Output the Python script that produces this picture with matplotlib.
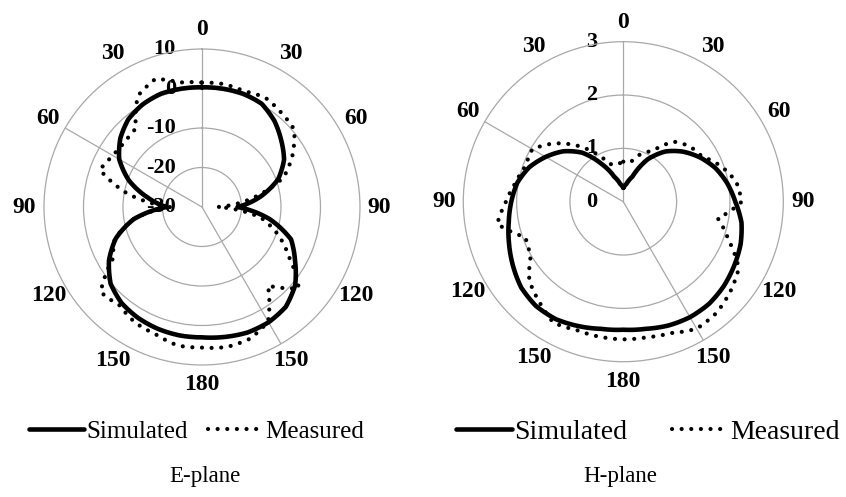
"""
Radiation patterns: E-plane (dB) and H-plane (linear), simulated vs measured
"""
import numpy as np
import matplotlib
matplotlib.use("Agg")
import matplotlib.pyplot as plt
from matplotlib.transforms import offset_copy

SERIF = "Liberation Serif"
GRID  = "#a8a8a8"

# angles, clockwise from broadside (deg)
ANGLES = [0, 10, 20, 30, 40, 50, 60, 70, 80, 90, 100, 110, 120, 130, 140, 150, 160, 170,
          180, 190, 200, 210, 220, 230, 240, 250, 260, 270, 280, 290, 300, 310, 320, 330,
          340, 350, 360]

# E-plane, dB
E_SIM  = [0.3, 0.4, 0.5, 0.2, -1.5, -3.8, -6.0, -9.5, -15.0, -21.0, -12.7, -6.0, -2.8,
          0.8, 3.0, 3.7, 3.8, 3.4, 3.0, 3.0, 2.8, 2.4, 1.7, 0.2, -2.8, -6.8, -12.5,
          -21.0, -16.0, -10.3, -5.8, -3.0, -1.0, 0.0, 0.5, 0.4, 0.3]
E_MEAS = [1.5, 1.6, 1.2, 2.0, 1.2, 0.5, -3.5, -8.0, -17.0, -26.0, -15.0, -9.5, -4.5,
          2.0, -4.0, 3.5, 5.5, 6.0, 5.6, 5.6, 4.3, 3.8, 2.5, 3.5, -4.0, -6.5, -12.5,
          -22.0, -11.0, -2.5, -4.0, -4.5, -4.0, 2.5, 4.5, 2.0, 1.5]

# H-plane, linear
H_SIM  = [0.26, 0.34, 0.50, 0.92, 1.23, 1.46, 1.66, 1.84, 1.98, 2.10, 2.25, 2.34, 2.40,
          2.46, 2.50, 2.50, 2.47, 2.42, 2.40, 2.42, 2.48, 2.54, 2.55, 2.50, 2.39, 2.28,
          2.18, 2.10, 2.02, 1.88, 1.68, 1.47, 1.20, 0.82, 0.50, 0.34, 0.26]
H_MEAS = [0.75, 0.74, 0.95, 1.10, 1.47, 1.62, 1.70, 1.95, 2.15, 2.22, 1.80, 2.10, 2.50,
          2.62, 2.72, 2.75, 2.62, 2.58, 2.58, 2.57, 2.56, 2.62, 2.45, 2.30, 2.00, 1.95,
          2.40, 2.20, 2.05, 1.95, 1.97, 1.70, 1.38, 1.05, 0.75, 0.70, 0.75]

TICK_ANG    = [0, 30, 60, 90, 120, 150, 180, 210, 240, 270, 300, 330]
TICK_LABELS = ["0", "30", "60", "90", "120", "150", "180", "150", "120", "90", "60", "30"]
SPOKES      = [0, 150, 300]

E_RINGS = [-30, -20, -10, 0, 10]
H_RINGS = [0, 1, 2, 3]


def polar_panel(fig, rect, sim, meas, rings, title, title_x, leg_x, leg_fs, hlen, colsp):
    ax = fig.add_axes(rect, projection="polar")
    ax.set_theta_zero_location("N")
    ax.set_theta_direction(-1)
    ax.set_ylim(rings[0], rings[-1])

    th = np.deg2rad(ANGLES)
    l1, = ax.plot(th, sim, color="black", lw=3.3, solid_joinstyle="round",
                  solid_capstyle="round", label="Simulated", zorder=3)
    l2, = ax.plot(th, meas, color="black", lw=3.0, linestyle=(0, (0.01, 2.3)),
                  dash_capstyle="round", label="Measured", zorder=4)
    # let the polar transform draw curved segments between the samples
    for ln in (l1, l2):
        ln.get_path()._interpolation_steps = 16

    # grid: rings + a few spokes only
    ax.xaxis.grid(False)
    ax.set_yticks(rings[1:-1])
    ax.set_yticklabels([])
    ax.yaxis.grid(True, color=GRID, lw=0.9)
    ax.spines["polar"].set_color(GRID)
    ax.spines["polar"].set_linewidth(0.9)
    for s in SPOKES:
        ax.plot([np.deg2rad(s)] * 2, [rings[0], rings[-1]], color=GRID, lw=0.9, zorder=1)

    ax.set_xticks(np.deg2rad(TICK_ANG))
    ax.set_xticklabels(TICK_LABELS, fontsize=17, fontweight="bold", family=SERIF)
    ax.tick_params(axis="x", pad=7, length=0)
    ax.tick_params(axis="y", length=0)

    # value labels sit just left of the 0-degree spoke
    tr = offset_copy(ax.transData, fig=fig, x=-26, y=0, units="dots")
    for r in rings:
        ax.text(0, r, f"{r:g}", transform=tr, ha="right", va="center",
                fontsize=16, fontweight="bold", family=SERIF, zorder=2)

    ax.legend(loc="center", bbox_to_anchor=(leg_x, 0.131), bbox_transform=fig.transFigure,
              ncol=2, frameon=False, handlelength=hlen, handletextpad=0.1,
              columnspacing=colsp, prop={"family": SERIF, "size": leg_fs})
    fig.text(title_x, 0.042, title, ha="center", va="center", fontsize=16.5, family=SERIF)
    return ax


fig = plt.figure(figsize=(8.46, 4.97), dpi=100)
polar_panel(fig, [0.052, 0.2656, 0.3735, 0.6358], E_SIM, E_MEAS, E_RINGS,
            "E-plane", 0.242, 0.232, 18, 2.2, 0.8)
polar_panel(fig, [0.5476, 0.2722, 0.3783, 0.6439], H_SIM, H_MEAS, H_RINGS,
            "H-plane", 0.733, 0.766, 20, 2.0, 1.6)

fig.savefig("out.png", dpi=100)
